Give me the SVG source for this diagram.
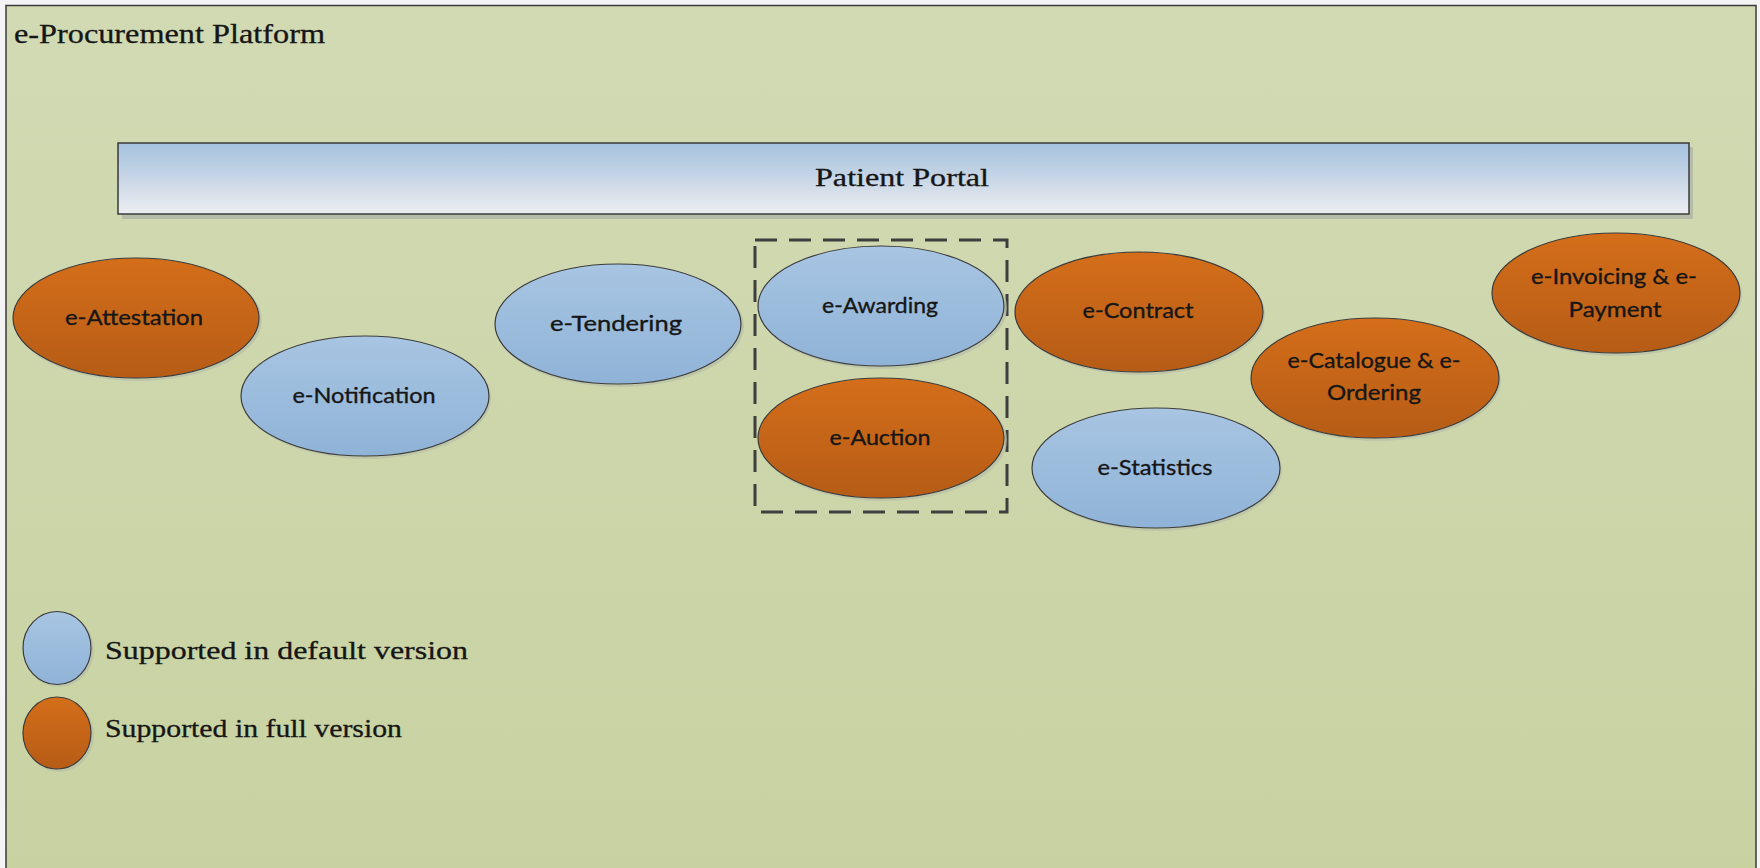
<svg xmlns="http://www.w3.org/2000/svg" width="1760" height="868" viewBox="0 0 1760 868">
<defs>
<linearGradient id="bg" x1="0" y1="0" x2="0" y2="1">
<stop offset="0" stop-color="#d2dab4"/>
<stop offset="1" stop-color="#c8d2a1"/>
</linearGradient>
<linearGradient id="blue" x1="0" y1="0" x2="0" y2="1">
<stop offset="0" stop-color="#a8c5e2"/>
<stop offset="1" stop-color="#8fb3d7"/>
</linearGradient>
<linearGradient id="orange" x1="0" y1="0" x2="0" y2="1">
<stop offset="0" stop-color="#d46e1a"/>
<stop offset="1" stop-color="#b65c16"/>
</linearGradient>
<linearGradient id="portal" x1="0" y1="0" x2="0" y2="1">
<stop offset="0" stop-color="#a5c2df"/>
<stop offset="0.5" stop-color="#c8d6e6"/>
<stop offset="1" stop-color="#eceef1"/>
</linearGradient>
</defs>
<style>
.blue{fill:url(#blue);stroke:#3c3c3c;stroke-width:1.2}
.orange{fill:url(#orange);stroke:#3c3c3c;stroke-width:1.2}
.shadow{fill:#b8bfa8;opacity:0.7}
.lbl{font-family:Lato,"Open Sans","Liberation Sans",sans-serif;font-size:22px;fill:#161616;stroke:#161616;stroke-width:0.35;text-anchor:middle}
.serif{font-family:"Liberation Serif","DejaVu Serif",serif;fill:#161616;stroke:#161616;stroke-width:0.3}
</style>
<rect x="0" y="0" width="1760" height="868" fill="#f4f4f4"/>
<g id="platform">
<rect x="6" y="5.5" width="1750" height="870" fill="url(#bg)" stroke="#3a3a3a" stroke-width="1.5"/>
<text class="serif" x="14" y="43" font-size="27" textLength="311" lengthAdjust="spacingAndGlyphs">e-Procurement Platform</text>
</g>
<g id="patient-portal">
<rect x="122" y="147" width="1571" height="72" fill="#a9b0a4" opacity="0.7"/>
<rect x="118" y="143" width="1571" height="71" fill="url(#portal)" stroke="#3a3a3a" stroke-width="1.5"/>
<text class="serif" x="902" y="186" font-size="25" text-anchor="middle" textLength="174" lengthAdjust="spacingAndGlyphs">Patient Portal</text>
</g>
<g id="connectors"></g>
<g id="group-award-auction">
<rect x="755" y="240" width="252" height="272" fill="none" stroke="#3e3e3e" stroke-width="3" stroke-dasharray="22 12"/>
</g>
<g id="e-attestation">
<ellipse class="shadow" cx="138" cy="320" rx="124" ry="61"/>
<ellipse class="orange" cx="136" cy="318" rx="123" ry="60"/>
<text class="lbl" x="134" y="325" textLength="138" lengthAdjust="spacingAndGlyphs">e-Attestation</text>
</g>
<g id="e-notification">
<ellipse class="shadow" cx="367" cy="398" rx="124" ry="61"/>
<ellipse class="blue" cx="365" cy="396" rx="124" ry="60"/>
<text class="lbl" x="364" y="403" textLength="143" lengthAdjust="spacingAndGlyphs">e-Notification</text>
</g>
<g id="e-tendering">
<ellipse class="shadow" cx="620" cy="326" rx="124" ry="61"/>
<ellipse class="blue" cx="618" cy="324" rx="123" ry="60"/>
<text class="lbl" x="616" y="331" textLength="132" lengthAdjust="spacingAndGlyphs">e-Tendering</text>
</g>
<g id="e-awarding">
<ellipse class="shadow" cx="883" cy="308" rx="124" ry="61"/>
<ellipse class="blue" cx="881" cy="306" rx="123" ry="60"/>
<text class="lbl" x="880" y="313" textLength="116" lengthAdjust="spacingAndGlyphs">e-Awarding</text>
</g>
<g id="e-auction">
<ellipse class="shadow" cx="883" cy="440" rx="124" ry="61"/>
<ellipse class="orange" cx="881" cy="438" rx="123" ry="60"/>
<text class="lbl" x="880" y="445" textLength="101" lengthAdjust="spacingAndGlyphs">e-Auction</text>
</g>
<g id="e-contract">
<ellipse class="shadow" cx="1141" cy="314" rx="124" ry="61"/>
<ellipse class="orange" cx="1139" cy="312" rx="124" ry="60"/>
<text class="lbl" x="1138" y="318" textLength="111" lengthAdjust="spacingAndGlyphs">e-Contract</text>
</g>
<g id="e-statistics">
<ellipse class="shadow" cx="1158" cy="470" rx="124" ry="61"/>
<ellipse class="blue" cx="1156" cy="468" rx="124" ry="60"/>
<text class="lbl" x="1155" y="475" textLength="115" lengthAdjust="spacingAndGlyphs">e-Statistics</text>
</g>
<g id="e-catalogue">
<ellipse class="shadow" cx="1377" cy="380" rx="124" ry="61"/>
<ellipse class="orange" cx="1375" cy="378" rx="124" ry="60"/>
<text class="lbl" x="1374" y="368" textLength="173" lengthAdjust="spacingAndGlyphs">e-Catalogue &amp; e-</text>
<text class="lbl" x="1374" y="400" textLength="94" lengthAdjust="spacingAndGlyphs">Ordering</text>
</g>
<g id="e-invoicing">
<ellipse class="shadow" cx="1618" cy="295" rx="124" ry="61"/>
<ellipse class="orange" cx="1616" cy="293" rx="124" ry="60"/>
<text class="lbl" x="1614" y="284" textLength="166" lengthAdjust="spacingAndGlyphs">e-Invoicing &amp; e-</text>
<text class="lbl" x="1615" y="317" textLength="93" lengthAdjust="spacingAndGlyphs">Payment</text>
</g>
<g id="legend">
<ellipse class="shadow" cx="59" cy="650" rx="35" ry="37"/>
<ellipse class="blue" cx="57" cy="648" rx="34" ry="36.5"/>
<text class="serif" x="105" y="659" font-size="25" textLength="363" lengthAdjust="spacingAndGlyphs">Supported in default version</text>
<ellipse class="shadow" cx="59" cy="735" rx="35" ry="37"/>
<ellipse class="orange" cx="57" cy="733" rx="34" ry="36"/>
<text class="serif" x="105" y="737" font-size="25" textLength="297" lengthAdjust="spacingAndGlyphs">Supported in full version</text>
</g>
</svg>
